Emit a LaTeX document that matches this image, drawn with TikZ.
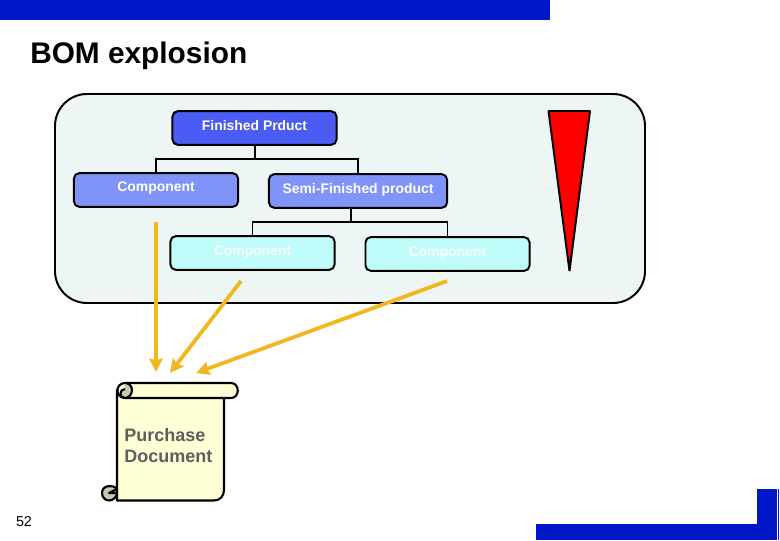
\documentclass[tikz,border=0pt]{standalone}
\usepackage{fontspec}
\usepackage{xcolor}
\setmainfont{Liberation Sans}
\usetikzlibrary{positioning,arrows.meta}
\definecolor{barblue}{HTML}{0018C8}
\definecolor{panelgray}{HTML}{EEF5F5}
\definecolor{topblue}{HTML}{4A5CF4}
\definecolor{midblue}{HTML}{8093F8}
\definecolor{paleblue}{HTML}{BFFCFA}
\definecolor{arrowgold}{HTML}{F2B71E}
\definecolor{scrollcream}{HTML}{FFFFD6}
\definecolor{curlgray}{HTML}{C8C8B0}
\tikzset{
    partbox/.style={draw=black, line width=1.4pt, rounded corners=0.13cm, minimum width=4.1cm, minimum height=0.84cm, text=white, font=\bfseries\fontsize{9.9}{12}\selectfont},
    link/.style={draw=black, line width=1.4pt},
    pull/.style={draw=arrowgold, line width=2.7pt, -{Stealth[length=0.34cm,width=0.34cm,inset=0.05cm]}},
    scrolledge/.style={draw=black, line width=1.5pt, line join=round}
}
\begin{document}
\begin{tikzpicture}[x=0.025cm,y=-0.025cm]
    \useasboundingbox (0,0) rectangle (780,540);
    % page frame
    \fill[barblue] (0,0) rectangle (550,20);
    \fill[barblue] (536,524) rectangle (777,540);
    \fill[barblue] (757,489) rectangle (777,540);
    \fill[barblue] (778,489) rectangle (779,540);
    \node (title) [anchor=west, inner sep=0pt, font=\bfseries\fontsize{21.2}{25}\selectfont] at (30,55.5) {BOM explosion};
    \node (pagenum) [font=\fontsize{10.2}{12}\selectfont] at (24,522) {52};

    % panel with the tree
    \draw[line width=1.4pt, fill=panelgray, rounded corners=0.8cm] (55,94) rectangle (645,303);
    \node (finished) [partbox, fill=topblue] at (254.5,128) {\raisebox{3.6pt}{Finished Prduct}};
    \node (comp1) [partbox, fill=midblue] at (156,190) {\raisebox{4.3pt}{Component}};
    \node (semi) [partbox, fill=midblue, minimum width=4.45cm] at (358,191) {\raisebox{3.6pt}{Semi-Finished product}};
    \node (comp2) [partbox, fill=paleblue, text=white!90!paleblue] at (252.5,253) {\raisebox{3pt}{Component}};
    \node (comp3) [partbox, fill=paleblue, text=white!90!paleblue] at (447.5,254) {\raisebox{3pt}{Component}};

    \coordinate (bus1) at (255,159);
    \coordinate (fpdrop) at (255,145);
    \coordinate (semidrop) at (351,208);
    \coordinate (bus2) at (351,222);
    \draw[link] (fpdrop) -- (bus1) -| (comp1.north);
    \draw[link] (bus1) -| (semi.north);
    \draw[link] (semidrop) -- (bus2) -| (comp2.north);
    \draw[link] (bus2) -| (comp3.north);

    \draw[line width=1.4pt, fill=red, line join=bevel] (548.5,111) -- (590,111) -- (569.5,271) -- cycle;

    % purchase document scroll
    \draw[scrolledge, fill=scrollcream] (117,390) -- (117,500.5) -- (214,500.5) .. controls (220,500.5) and (224,496) .. (224,490) -- (224,398) -- cycle;
    \draw[scrolledge, fill=scrollcream] (125,383) -- (231,383) .. controls (240,383) and (240,398) .. (231,398) -- (125,398) .. controls (115,398) and (115,383) .. (125,383) -- cycle;
    \draw[scrolledge, fill=curlgray] (125,389) .. controls (119,389) and (119,398) .. (125,398) .. controls (129,398) and (132,394) .. (132,390) .. controls (132,386) and (129,383) .. (125,383);
    \draw[scrolledge, fill=curlgray] (117,489) .. controls (113,484) and (102,485) .. (102,493) .. controls (102,497) and (105,500.5) .. (109,500.5) .. controls (113,500.5) and (117,497) .. (117,493) -- (109,493) -- cycle;
    \node (purchase) [anchor=north west, inner sep=0pt, align=left, text=black!63, font=\bfseries\fontsize{12.8}{15}\selectfont] at (124,428) {Purchase\\Document};

    % arrows into the scroll
    \coordinate (from1) at (156,222);
    \coordinate (from2) at (241,281);
    \coordinate (from3) at (447,281);
    \coordinate (to1) at (156,372);
    \coordinate (to2) at (170,373);
    \coordinate (to3) at (196,373);
    \draw[pull] (from1) -- (to1);
    \draw[pull] (from2) -- (to2);
    \draw[pull] (from3) -- (to3);
\end{tikzpicture}
\end{document}
